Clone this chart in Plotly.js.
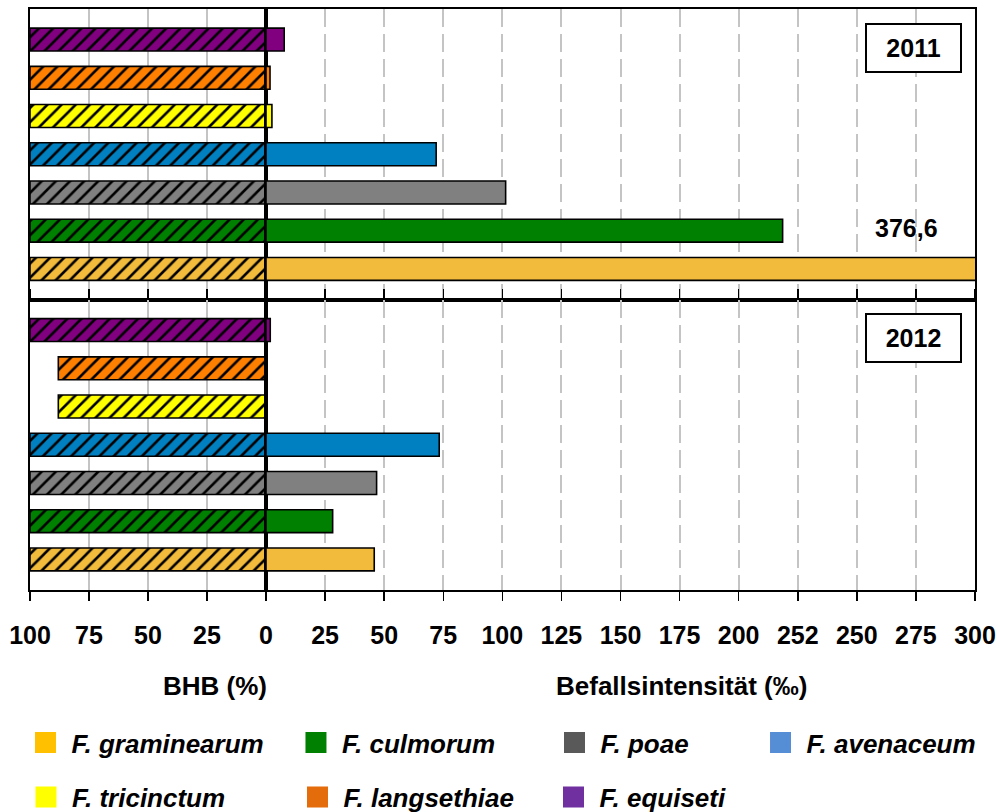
<!DOCTYPE html>
<html>
<head>
<meta charset="utf-8">
<script src="https://cdn.plot.ly/plotly-3.0.1.min.js"></script>
<style>html,body{margin:0;padding:0;background:#fff;}#chart{width:1000px;height:812px;}</style>
</head>
<body>
<div id="chart"></div>
<script>
// ---- data ----
const species = ['F. graminearum','F. culmorum','F. poae','F. avenaceum','F. tricinctum','F. langsethiae','F. equiseti'];
const barColors = ['#F3BB3B','#008000','#808080','#0080C0','#FFFF00','#FF8000','#800080'];
const legendColors = ['#FFC000','#008000','#595959','#558ED5','#FFFF00','#E46C0A','#7030A0'];
const bhb2011 = [100, 100, 100, 100, 100, 100, 100];      // BHB (%)
const befall2011 = [376.6, 218.6, 101.4, 72.0, 2.5, 1.7, 7.7]; // Befallsintensität (‰)
const bhb2012 = [100, 100, 100, 100, 88, 88, 100];
const befall2012 = [45.8, 28.2, 46.8, 73.3, 0.5, 0.4, 1.8];
const leftTickVals = [-100, -75, -50, -25, 0];
const leftTickText = ['100', '75', '50', '25', '0'];
const rightTickVals = [25, 50, 75, 100, 125, 150, 175, 200, 225, 250, 275, 300];
const rightTickText = ['25', '50', '75', '100', '125', '150', '175', '200', '252', '250', '275', '300'];
const years = ['2011', '2012'];

// ---- layout constants ----
const FONT = 'Liberation Sans, Arial, Helvetica, sans-serif';
const split = 236 / 945;

const hatch = {shape: '/', fgcolor: '#000000', bgcolor: barColors, fgopacity: 1, fillmode: 'replace', size: 10, solidity: 0.26};
const outline = {color: '#000000', width: 1.6};

function leftBars(vals, ya) {
  return {type: 'bar', orientation: 'h', y: species, x: vals.map(v => -v), xaxis: 'x', yaxis: ya,
    width: 0.6, showlegend: false, hoverinfo: 'skip',
    marker: {color: '#000000', line: outline, pattern: hatch}};
}
function rightBars(vals, ya) {
  return {type: 'bar', orientation: 'h', y: species, x: vals, xaxis: 'x2', yaxis: ya,
    width: 0.6, showlegend: false, hoverinfo: 'skip',
    marker: {color: barColors, line: outline}};
}

const traces = [
  leftBars(bhb2011, 'y'), rightBars(befall2011, 'y'),
  leftBars(bhb2012, 'y2'), rightBars(befall2012, 'y2')
];

// legend entries (one legend per entry for exact placement)
const legendPos = [
  [-0.0111, -0.2625], [0.2751, -0.2625], [0.5487, -0.2625], [0.7667, -0.2625],
  [-0.0106, -0.3563], [0.2767, -0.3563], [0.5476, -0.3563]
];
const layoutLegends = {};
species.forEach((s, i) => {
  const key = i === 0 ? 'legend' : 'legend' + (i + 1);
  traces.push({type: 'scatter', mode: 'markers', x: [null], y: [null], xaxis: 'x', yaxis: 'y',
    name: s, legend: key, showlegend: true, hoverinfo: 'skip',
    marker: {symbol: 'square', size: 16, color: legendColors[i], line: {color: legendColors[i], width: 5}}});
  layoutLegends[key] = {
    x: legendPos[i][0], y: legendPos[i][1], xanchor: 'left', yanchor: 'middle',
    orientation: 'h', itemwidth: 42, bgcolor: 'rgba(0,0,0,0)', borderwidth: 0,
    itemclick: false, itemdoubleclick: false,
    font: {family: FONT, size: 26, weight: 'bold', style: 'italic', color: '#000'}
  };
});

const yCommon = {
  type: 'category', categoryorder: 'array', categoryarray: species,
  range: [-0.8, 6.8], showticklabels: false, ticks: '', showgrid: false, zeroline: false,
  showline: true, linecolor: '#000', linewidth: 2, mirror: 'all', fixedrange: true
};
const xCommon = {
  showline: true, linecolor: '#000', linewidth: 2, mirror: 'all', zeroline: false,
  ticks: 'outside', ticklen: 9, tickwidth: 1.5, tickcolor: '#000', ticklabelstandoff: 13,
  tickmode: 'array', showgrid: true, gridcolor: '#C4C4C4', gridwidth: 2,
  tickfont: {family: FONT, size: 25, weight: 'bold', color: '#000'}, fixedrange: true,
  anchor: 'y2', automargin: false
};

const annFont = (size) => ({family: FONT, size: size, weight: 'bold', color: '#000'});

const layout = Object.assign({
  width: 1000, height: 812,
  margin: {l: 30, r: 25, t: 9, b: 222, pad: 0, autoexpand: false},
  paper_bgcolor: '#fff', plot_bgcolor: '#fff',
  font: {family: FONT, color: '#000'},
  bargap: 0.4,
  xaxis: Object.assign({}, xCommon, {domain: [0, split], range: [-100, 0],
    tickvals: leftTickVals, ticktext: leftTickText}),
  xaxis2: Object.assign({}, xCommon, {domain: [split, 1], range: [0, 300],
    tickvals: rightTickVals, ticktext: rightTickText, griddash: '18px,7px'}),
  yaxis: Object.assign({}, yCommon, {domain: [0.5, 1], anchor: 'x'}),
  yaxis2: Object.assign({}, yCommon, {domain: [0, 0.5], anchor: 'x'}),
  annotations: [
    {xref: 'paper', yref: 'paper', x: 0.9354, y: 0.9329, xanchor: 'center', yanchor: 'middle',
     text: years[0], showarrow: false,
     width: 93, height: 46, borderpad: 0, borderwidth: 2, bordercolor: '#000', bgcolor: '#fff',
     font: annFont(25)},
    {xref: 'paper', yref: 'paper', x: 0.9354, y: 0.4337, xanchor: 'center', yanchor: 'middle',
     text: years[1], showarrow: false,
     width: 93, height: 46, borderpad: 0, borderwidth: 2, bordercolor: '#000', bgcolor: '#fff',
     font: annFont(25)},
    {xref: 'paper', yref: 'paper', x: 0.928, y: 0.623, xanchor: 'center', yanchor: 'middle',
     showarrow: false, text: String(befall2011[0]).replace('.', ','), font: annFont(25)},
    {xref: 'paper', yref: 'paper', x: 0.1958, y: -0.1652, xanchor: 'center', yanchor: 'middle',
     showarrow: false, text: 'BHB (%)', font: annFont(26)},
    {xref: 'paper', yref: 'paper', x: 0.6889, y: -0.1652, xanchor: 'center', yanchor: 'middle',
     showarrow: false, text: 'Befallsintensität (‰)', font: annFont(26)}
  ]
}, layoutLegends);

Plotly.newPlot('chart', traces, layout, {displayModeBar: false, staticPlot: true});
</script>
</body>
</html>
